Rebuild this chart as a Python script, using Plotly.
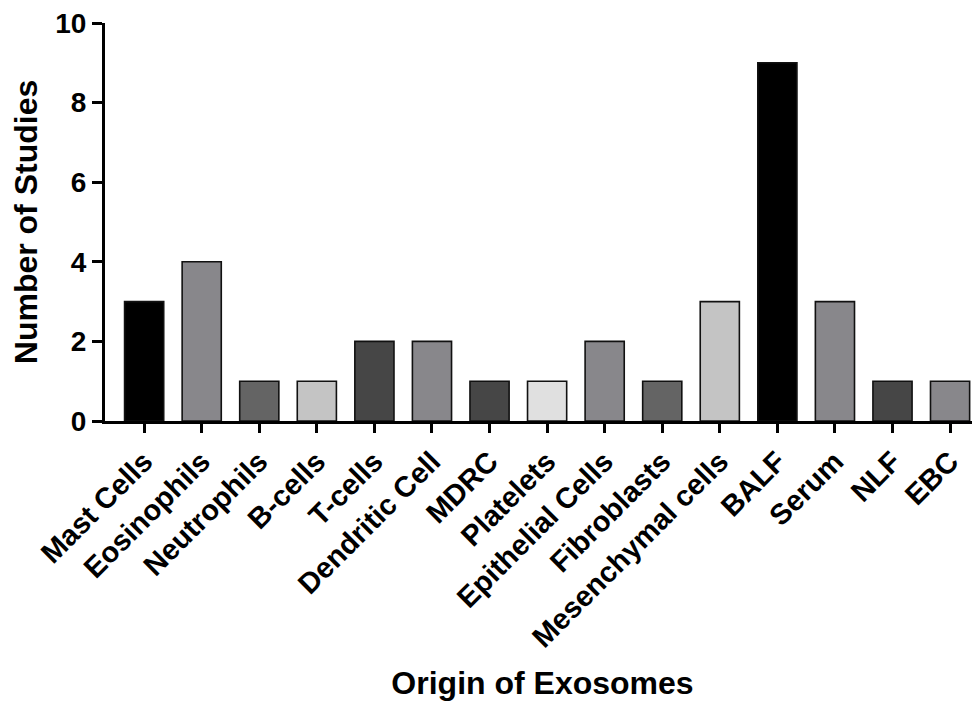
import plotly.graph_objects as go

categories = ["Mast Cells", "Eosinophils", "Neutrophils", "B-cells", "T-cells",
              "Dendritic Cell", "MDRC", "Platelets", "Epithelial Cells", "Fibroblasts",
              "Mesenchymal cells", "BALF", "Serum", "NLF", "EBC"]
studies = [3, 4, 1, 1, 2, 2, 1, 1, 2, 1, 3, 9, 3, 1, 1]
bar_colors = ["#000000", "#88878b", "#646464", "#c4c4c4", "#464646",
              "#88878b", "#464646", "#e0e0e0", "#88878b", "#646464",
              "#c4c4c4", "#000000", "#88878b", "#464646", "#88878b"]
y_ticks = [0, 2, 4, 6, 8, 10]

font_family = "Liberation Sans, Arial, sans-serif"

fig = go.Figure(go.Bar(
    x=list(range(len(categories))), y=studies,
    marker=dict(color=bar_colors, line=dict(color="#111111", width=1.6)),
    width=0.68,
))

fig.update_layout(
    width=980, height=706,
    margin=dict(l=97, r=8, t=15, b=293),
    paper_bgcolor="white", plot_bgcolor="white",
    showlegend=False,
    font=dict(family=font_family, color="black", size=22, weight="bold"),
)

fig.update_xaxes(
    tickmode="array", tickvals=list(range(len(categories))), ticktext=categories,
    range=[-0.68, 14.52], tickangle=-45, automargin=False,
    ticklabeloverflow="allow",
    showline=True, linecolor="black", linewidth=3,
    ticks="outside", ticklen=9, tickwidth=3, tickcolor="black",
    showgrid=False, zeroline=False,
    tickfont=dict(size=29, family=font_family, weight="bold"),
    title=dict(text="Origin of Exosomes", font=dict(size=32, family=font_family, weight="bold"), standoff=20),
)
fig.update_yaxes(
    range=[0, 10], tickvals=y_ticks, automargin=False,
    ticklabeloverflow="allow",
    showline=True, linecolor="black", linewidth=3,
    ticks="outside", ticklen=10, tickwidth=3, tickcolor="black",
    showgrid=False, zeroline=False,
    tickfont=dict(size=28, family=font_family, weight="bold"),
    title=dict(text="Number of Studies", font=dict(size=32, family=font_family, weight="bold"), standoff=21),
)

fig.write_html("out.html")
